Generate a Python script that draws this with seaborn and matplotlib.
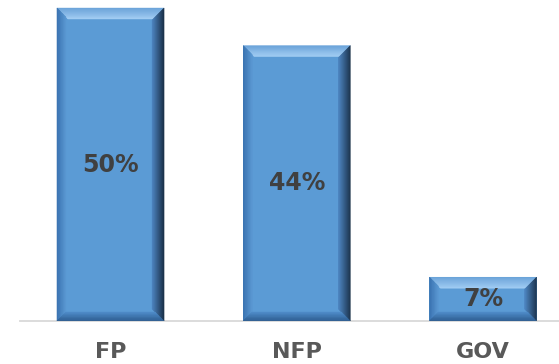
import matplotlib
matplotlib.use("Agg")
import matplotlib.pyplot as plt
import numpy as np
import pandas as pd
import seaborn as sns
from matplotlib.colors import to_rgb
from matplotlib.patches import Polygon

# Share of organisations by sector
categories = ["FP", "NFP", "GOV"]
shares = [50, 44, 7]
value_labels = ["50%", "44%", "7%"]

sns.set_theme(style="white")
plt.rcParams["font.family"] = ["DejaVu Sans"]

W, H = 559, 364
fig = plt.figure(figsize=(W / 100, H / 100), dpi=100)
ax = fig.add_axes([20 / W, 43 / H, 539 / W, 321 / H])

df = pd.DataFrame({"sector": categories, "share": shares})
sns.barplot(data=df, x="sector", y="share", color="#5B9BD5",
            width=0.575, saturation=1, ax=ax, edgecolor="none")

ax.set_xlim(-0.486, 2.408)
ax.set_ylim(0, 51.28)

# axis styling
for side in ["left", "right", "top"]:
    ax.spines[side].set_visible(False)
ax.spines["bottom"].set_color("#D9D9D9")
ax.spines["bottom"].set_linewidth(1.3)
ax.set_yticks([])
ax.set_xlabel("")
ax.set_ylabel("")
ax.tick_params(axis="x", length=0, pad=15, labelsize=16, labelcolor="#595959")
for t in ax.get_xticklabels():
    t.set_fontweight("bold")

# bevelled edges built from each bar's own extent
fig.canvas.draw()
p0 = ax.transData.transform((0, 0))
p1 = ax.transData.transform((1, 1))
ux = 1.0 / (p1[0] - p0[0])
uy = 1.0 / (p1[1] - p0[1])


def mix(c1, c2, t):
    a, b = np.array(to_rgb(c1)), np.array(to_rgb(c2))
    return tuple(a + (b - a) * t)


bevel = {
    # side: (outer colour, inner colour, depth in px)
    "top": ("#6AA3D9", "#A6D0F5", 11),
    "left": ("#3870AE", "#5A98D2", 9),
    "right": ("#172B42", "#4C84C0", 12),
    "bottom": ("#2B5A8D", "#4E8BC8", 9),
}
steps = 12

for patch in ax.patches:
    x0, y0 = patch.get_x(), patch.get_y()
    x1, y1 = x0 + patch.get_width(), y0 + patch.get_height()
    for side, (c_out, c_in, depth) in bevel.items():
        for i in range(steps):
            a = depth * i / steps
            b = depth * (i + 1) / steps
            col = mix(c_out, c_in, (i + 0.5) / steps)
            if side == "top":
                pts = [(x0 + a * ux, y1 - a * uy), (x1 - a * ux, y1 - a * uy),
                       (x1 - b * ux, y1 - b * uy), (x0 + b * ux, y1 - b * uy)]
            elif side == "bottom":
                pts = [(x0 + a * ux, y0 + a * uy), (x1 - a * ux, y0 + a * uy),
                       (x1 - b * ux, y0 + b * uy), (x0 + b * ux, y0 + b * uy)]
            elif side == "left":
                pts = [(x0 + a * ux, y0 + a * uy), (x0 + a * ux, y1 - a * uy),
                       (x0 + b * ux, y1 - b * uy), (x0 + b * ux, y0 + b * uy)]
            else:
                pts = [(x1 - a * ux, y0 + a * uy), (x1 - a * ux, y1 - a * uy),
                       (x1 - b * ux, y1 - b * uy), (x1 - b * ux, y0 + b * uy)]
            ax.add_patch(Polygon(pts, closed=True, facecolor=col,
                                 edgecolor=col, linewidth=0.3, zorder=3))

# value labels in the middle of each bar
for patch, lab in zip(ax.patches[:len(categories)], value_labels):
    cx = patch.get_x() + patch.get_width() / 2
    cy = patch.get_y() + patch.get_height() / 2
    ax.text(cx, cy, lab, ha="center", va="center", fontsize=17,
            fontweight="bold", color="#404040", zorder=5)

fig.savefig("out.png", dpi=100)
